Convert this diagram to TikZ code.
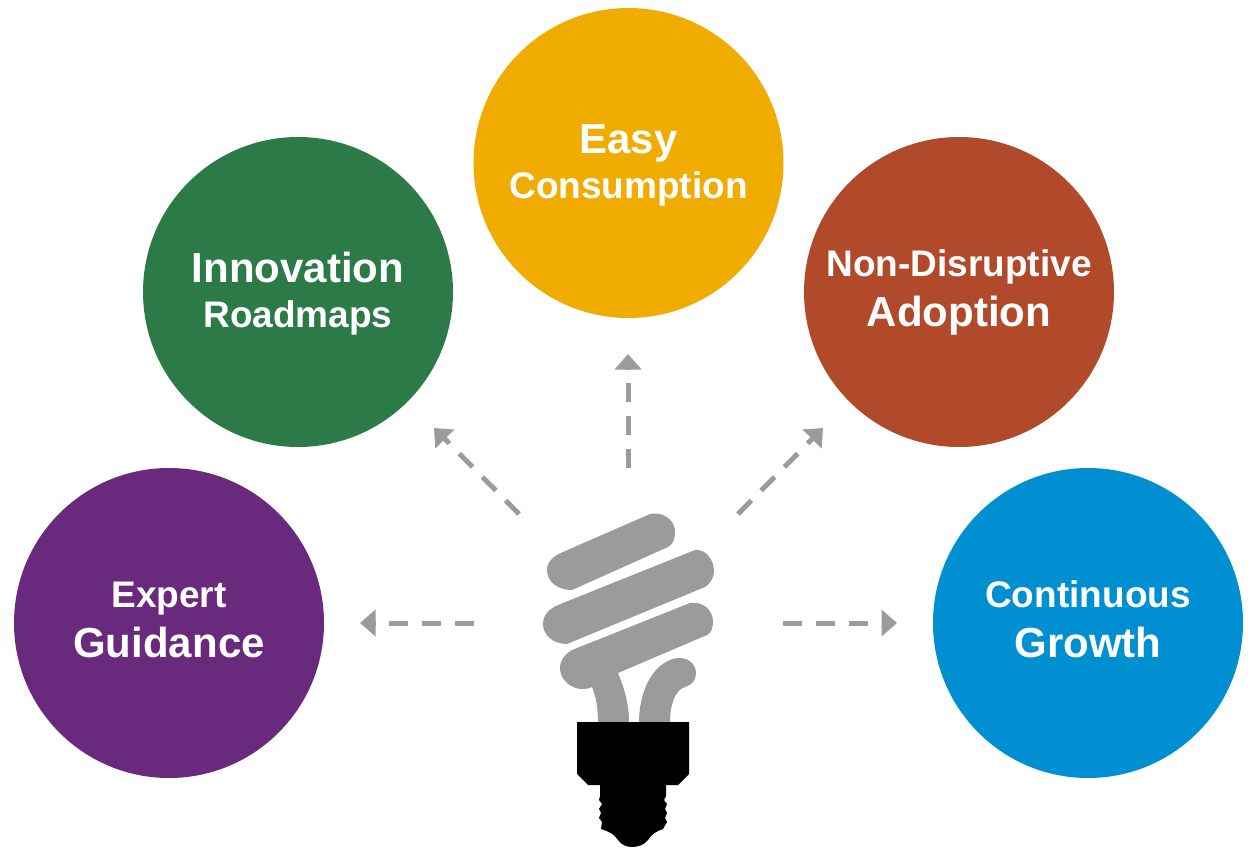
\documentclass[tikz,border=0pt]{standalone}
\usepackage{fontspec}
\setmainfont{Liberation Sans}
\usetikzlibrary{arrows.meta}
\definecolor{expertcol}{HTML}{692A7D}
\definecolor{innovcol}{HTML}{2B7A47}
\definecolor{easycol}{HTML}{F0AC00}
\definecolor{adoptcol}{HTML}{B14A2A}
\definecolor{growthcol}{HTML}{008FD0}
\definecolor{bulbgray}{HTML}{9B9B9B}
\newcommand{\bigline}{\fontsize{42}{46}\selectfont}
\newcommand{\smallline}{\fontsize{37}{46}\selectfont}
\newcommand{\bigsmall}[2]{\bigline\rule{0pt}{35.5pt}#1\\\smallline\rule[-10pt]{0pt}{10pt}#2}
\newcommand{\smallbig}[2]{\smallline\rule{0pt}{34pt}#1\\\bigline\rule[-16pt]{0pt}{16pt}#2}
\tikzset{
	idea/.style={circle, minimum size=310pt, inner sep=0pt, text=white, align=center},
	ideabig/.style={idea, font=\bfseries\fontsize{42}{45.5}\selectfont},
	ideasmall/.style={idea, font=\bfseries\fontsize{37}{50}\selectfont},
	dasharrow/.style={draw=bulbgray, line width=5pt, dash pattern=on 19pt off 14pt, -{Triangle[length=15.5pt, width=26pt]}}
}
\begin{document}
\begin{tikzpicture}[x=1pt, y=-1pt]
		\useasboundingbox (0,0) rectangle (1251,848);
		
		\node[ideasmall, fill=expertcol] (expert) at (169,623) {\smallbig{Expert}{Guidance}};
		\node[ideabig, fill=innovcol] (innovation) at (298,292) {\bigsmall{Innovation}{Roadmaps}};
		\node[ideabig, fill=easycol] (easy) at (628.5,163) {\bigsmall{Easy}{Consumption}};
		\node[ideasmall, fill=adoptcol] (adoption) at (959,292) {\smallbig{Non-Disruptive}{Adoption}};
		\node[ideasmall, fill=growthcol] (growth) at (1088,623) {\smallbig{Continuous}{Growth}};
		
		\coordinate (W1) at (474,623);
		\coordinate (W2) at (360,623);
		\coordinate (NW1) at (519,514);
		\coordinate (NW2) at (434,428);
		\coordinate (N1) at (628,468);
		\coordinate (N2) at (628,354);
		\coordinate (NE1) at (738,514);
		\coordinate (NE2) at (823,428);
		\coordinate (E1) at (783,623);
		\coordinate (E2) at (897,623);
		
		\draw[dasharrow] (W1) -- (W2);
		\draw[dasharrow] (NW1) -- (NW2);
		\draw[dasharrow] (N1) -- (N2);
		\draw[dasharrow] (NE1) -- (NE2);
		\draw[dasharrow] (E1) -- (E2);
		
		\fill[bulbgray] (563,552) -- (650,514) .. controls (665,511) and (676,522) .. (675,533) .. controls (675,540) and (672,545) .. (668,547)
			-- (572,590) .. controls (558,590) and (547,582) .. (547,570) .. controls (547,562) and (553,556) .. (563,552) -- cycle;
		\fill[bulbgray] (558,605) -- (695,550) .. controls (706,549) and (714,560) .. (714,571) .. controls (714,578) and (710,584) .. (705,587)
			-- (567,644) .. controls (553,644) and (543,635) .. (543,624) .. controls (543,615) and (549,609) .. (558,605) -- cycle;
		\fill[bulbgray] (572,650) -- (690,603) .. controls (703,601) and (713,610) .. (713,622) .. controls (713,628) and (711,633) .. (707,635)
			-- (618,673) .. controls (625,690) and (629,705) .. (629,722) -- (598,722) .. controls (598,708) and (596,697) .. (592,687)
			.. controls (588,689) and (584,689) .. (580,689) .. controls (568,687) and (560,678) .. (560,668) .. controls (560,660) and (565,654) .. (572,650) -- cycle;
		\fill[bulbgray] (639,722) .. controls (639,695) and (650,668) .. (670,660) .. controls (684,654) and (696,662) .. (696,673)
			.. controls (696,680) and (692,685) .. (685,687) .. controls (675,690) and (670,705) .. (670,722) -- cycle;
		
		\fill[black] (577,722) -- (689,722) -- (689,774) -- (678,785) -- (666,785) -- (666,796)
			-- (664,800) -- (667,804) -- (665,809) -- (667,813) -- (665,818) -- (667,822) -- (663,829)
			.. controls (655,832) and (652,834) .. (648,840) .. controls (644,845) and (638,847) .. (632,847)
			.. controls (626,847) and (622,845) .. (618,840) .. controls (614,834) and (610,832) .. (601,829)
			-- (602,822) -- (599,818) -- (601,813) -- (599,809) -- (602,804) -- (599,800) -- (600,796)
			-- (600,785) -- (588,785) -- (577,774) -- cycle;
		\end{tikzpicture}
\end{document}
